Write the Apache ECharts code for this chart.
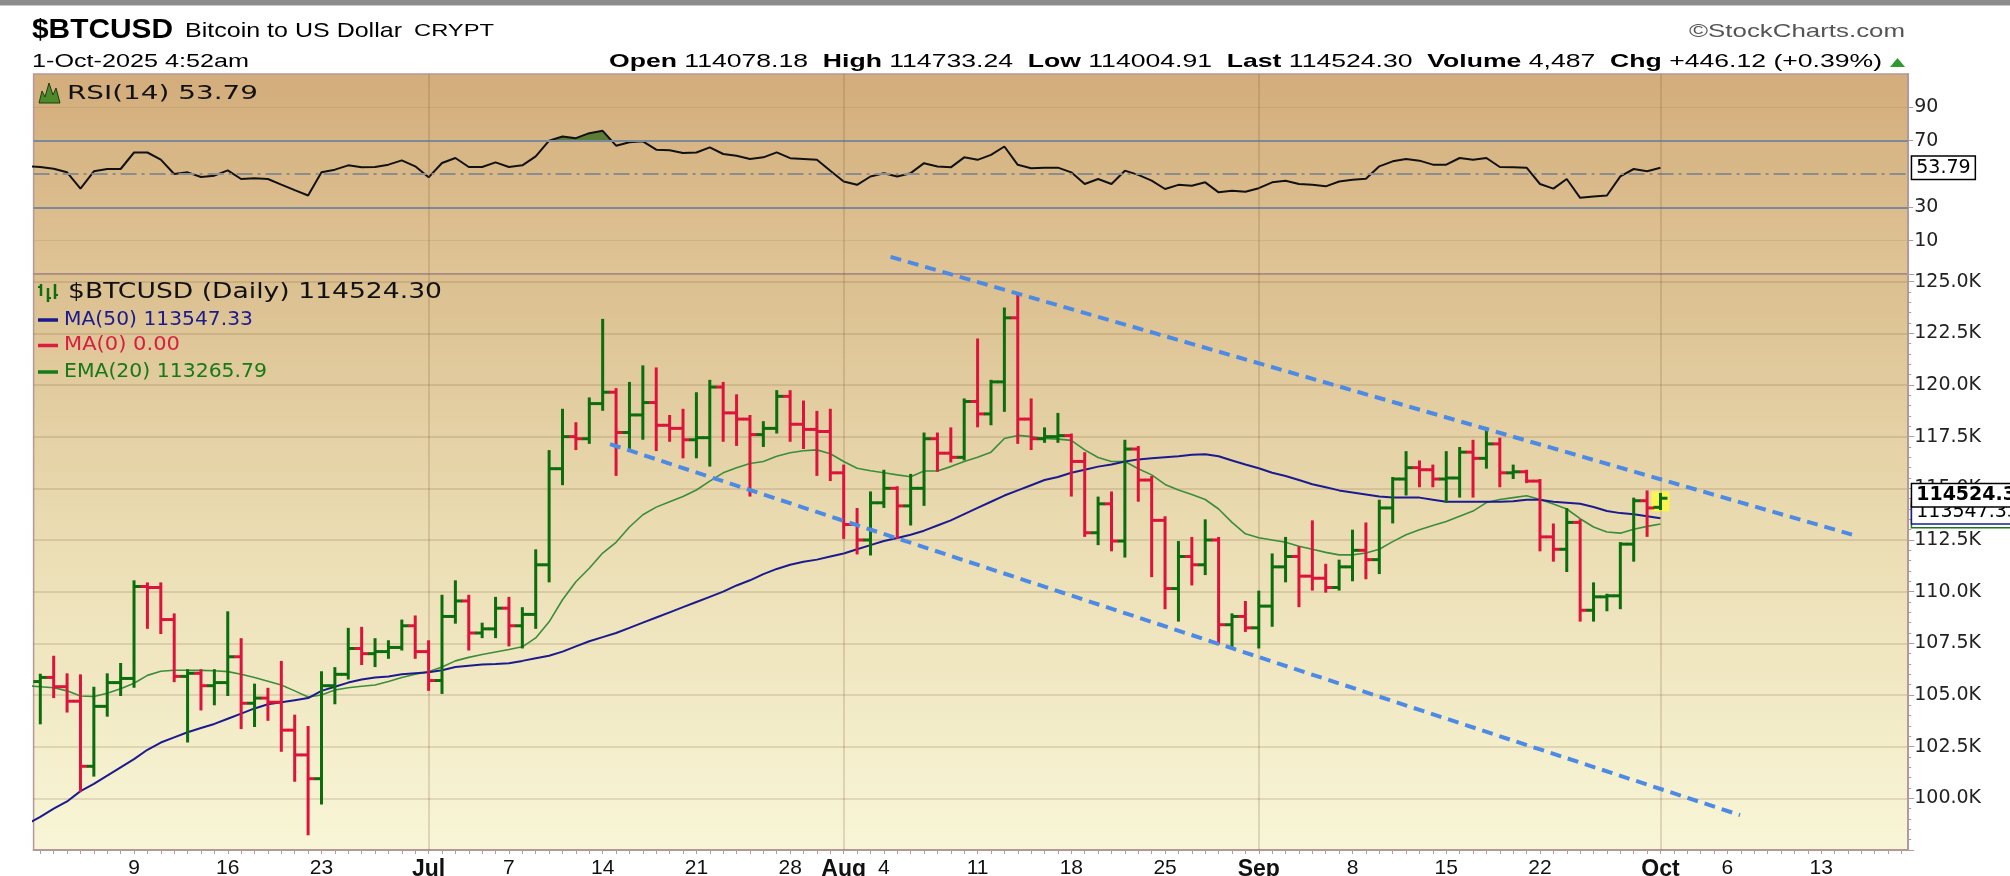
<!DOCTYPE html>
<html><head><meta charset="utf-8">
<script src="https://cdn.jsdelivr.net/npm/echarts@6/dist/echarts.min.js"></script>
<style>html,body{margin:0;padding:0;background:#fff;}#c{width:2010px;height:876px;}</style>
</head><body><div id="c"></div>
<script>
// ---------------- DATA ----------------
// day index: 0 = 1 Jun 2025
const startDay = 1;      // first bar: 2 Jun 2025
const lineStartDay = 0;  // indicator lines start 1 Jun 2025
const open = [105.65,105.85,105.4,104.7,101.55,104.45,105.6,105.8,110.25,110.2,
 108.65,105.9,106.05,105.45,105.6,106.85,104.6,104.85,104.65,103.3,
 102.1,100.95,105.45,106.0,107.25,107.0,107.1,107.3,108.35,107.1,
 105.7,108.8,109.55,108.0,108.2,109.2,108.35,108.9,111.3,115.95,
 117.5,117.4,119.1,119.65,117.7,118.55,119.15,118.05,117.9,117.35,
 117.45,119.9,118.65,118.35,117.6,117.9,119.45,118.1,117.85,117.75,
 115.75,113.25,112.5,114.3,115.0,114.15,115.0,117.4,116.7,116.5,
 119.2,118.6,120.15,123.25,118.35,117.4,117.5,117.55,116.3,112.85,
 114.25,112.45,116.9,115.4,113.45,110.15,111.7,111.3,112.5,108.4,
 108.8,108.25,109.3,111.2,111.7,110.75,110.65,110.2,111.2,112.0,
 111.55,114.05,115.45,116.0,115.9,115.45,115.5,116.75,116.45,117.15,
 115.75,115.8,115.35,112.65,112.05,113.35,109.1,109.75,109.8,112.3,
 114.4,114.08];
const high = [105.98,106.85,106.0,105.95,105.35,106.0,106.5,110.5,110.4,110.4,
 108.9,106.2,106.2,106.2,109.0,107.7,105.5,105.3,106.6,104.0,
 103.45,106.1,106.3,108.2,108.25,107.7,107.6,108.6,108.8,107.6,
 109.8,110.5,109.8,108.45,109.7,109.7,109.2,112.0,116.8,118.8,
 118.15,119.35,123.15,119.8,120.1,120.9,120.8,118.5,118.8,119.6,
 120.2,120.1,119.5,118.5,118.2,119.7,119.7,119.2,118.7,118.8,
 116.1,114.0,114.8,115.85,115.05,115.65,117.65,117.65,117.9,119.3,
 122.2,120.2,123.7,124.45,119.3,117.9,118.6,117.6,116.7,114.55,
 114.8,117.3,117.0,115.55,113.6,112.4,112.6,113.45,112.6,108.9,
 109.5,110.0,111.8,112.6,112.15,113.4,111.3,111.5,112.95,113.3,
 114.4,115.5,116.75,116.3,116.1,116.75,116.95,117.3,117.9,117.4,
 116.1,115.85,115.4,113.25,114.0,113.45,110.4,109.85,112.35,114.5,
 114.85,114.73];
const low = [103.63,104.9,104.2,100.35,101.1,104.0,105.0,105.4,108.25,108.0,
 105.67,102.75,104.3,104.55,105.0,103.4,103.5,103.8,102.3,100.85,
 98.26,99.75,104.6,105.8,106.5,106.4,106.8,107.2,106.8,105.25,
 105.1,108.5,107.2,107.8,107.8,107.4,107.3,108.25,110.5,115.2,
 116.9,117.2,118.8,115.65,116.95,117.4,116.85,117.3,116.5,116.5,
 116.1,117.3,117.1,114.65,117.05,117.7,117.3,116.95,115.65,115.4,
 112.6,111.85,111.8,114.1,112.6,113.25,114.2,115.85,116.3,116.4,
 118.0,118.1,118.75,117.2,116.9,117.25,117.25,114.65,112.7,112.3,
 112.0,111.7,114.4,110.75,109.2,108.6,110.35,110.85,107.5,107.3,
 108.1,107.3,108.35,110.5,109.3,110.1,110.0,110.1,110.55,110.65,
 110.9,113.35,114.7,115.1,115.1,114.35,114.6,114.6,116.0,115.1,
 115.5,115.3,112.0,111.5,111.0,108.6,108.6,109.1,109.2,111.5,
 112.7,114.0];
const close = [105.85,105.4,104.7,101.55,104.45,105.6,105.8,110.25,110.2,108.65,
 105.9,106.05,105.45,105.6,106.85,104.6,104.85,104.65,103.3,102.1,
 100.95,105.45,106.0,107.25,107.0,107.1,107.3,108.35,107.1,105.7,
 108.8,109.55,108.0,108.2,109.2,108.35,108.9,111.3,115.95,117.5,
 117.4,119.1,119.65,117.7,118.55,119.15,118.05,117.9,117.35,117.45,
 119.9,118.65,118.35,117.6,117.9,119.45,118.1,117.85,117.75,115.75,
 113.25,112.5,114.3,115.0,114.15,115.0,117.4,116.7,116.5,119.2,
 118.6,120.15,123.25,118.35,117.4,117.5,117.55,116.3,112.85,114.25,
 112.45,116.9,115.4,113.45,110.15,111.7,111.3,112.5,108.4,108.8,
 108.25,109.3,111.2,111.7,110.75,110.65,110.2,111.2,112.0,111.55,
 114.05,115.45,116.0,115.9,115.45,115.5,116.75,116.45,117.15,115.75,
 115.8,115.35,112.65,112.05,113.35,109.1,109.75,109.8,112.3,114.4,
 114.05,114.52];
const ma50 = [98.75,
 99.1,99.5,99.85,100.35,100.7,101.1,101.5,101.9,102.35,102.7,
 102.95,103.2,103.4,103.6,103.85,104.1,104.35,104.55,104.65,104.75,
 104.85,105.2,105.4,105.6,105.75,105.85,105.9,106.0,106.05,106.1,
 106.2,106.35,106.42,106.48,106.5,106.54,106.65,106.78,106.9,107.1,
 107.35,107.6,107.8,108.0,108.25,108.5,108.75,109.0,109.25,109.5,
 109.75,110.0,110.3,110.55,110.85,111.1,111.3,111.45,111.55,111.7,
 111.85,112.05,112.25,112.45,112.6,112.75,112.95,113.2,113.45,113.75,
 114.05,114.35,114.65,114.9,115.15,115.4,115.55,115.75,115.9,116.05,
 116.15,116.3,116.4,116.45,116.5,116.55,116.62,116.65,116.55,116.35,
 116.15,115.97,115.75,115.6,115.4,115.2,115.05,114.9,114.8,114.7,
 114.6,114.55,114.55,114.55,114.45,114.35,114.35,114.35,114.35,114.35,
 114.38,114.45,114.45,114.35,114.3,114.25,114.1,113.9,113.8,113.75,
 113.65,113.55];
const ema20 = [105.45,
 105.4,105.35,105.2,104.95,104.93,105.08,105.3,105.57,105.95,106.15,
 106.2,106.2,106.19,106.17,106.13,106.0,105.85,105.67,105.48,105.2,
 104.9,105.0,105.24,105.35,105.42,105.48,105.65,105.85,106.0,106.13,
 106.35,106.65,106.82,106.96,107.08,107.2,107.33,107.76,108.54,109.61,
 110.48,111.13,111.87,112.39,113.13,113.72,114.09,114.35,114.6,114.92,
 115.35,115.75,116.0,116.2,116.3,116.55,116.72,116.82,116.86,116.67,
 116.3,115.97,115.85,115.75,115.65,115.56,115.84,115.84,116.05,116.3,
 116.5,116.75,117.41,117.56,117.5,117.41,117.38,117.32,116.86,116.49,
 116.3,116.3,115.95,115.65,115.19,114.92,114.7,114.46,114.0,113.35,
 112.8,112.61,112.5,112.39,112.2,112.05,111.9,111.78,111.78,111.87,
 112.05,112.42,112.75,113.0,113.2,113.39,113.65,113.9,114.31,114.46,
 114.55,114.64,114.46,114.24,114.0,113.53,113.13,112.89,112.83,113.02,
 113.16,113.27];
const rsi14 = [54.8,
 54.2,53.2,51.0,41.2,51.6,53.0,53.0,62.9,62.9,58.6,
 50.0,51.0,48.2,49.0,52.2,47.0,47.5,47.0,43.6,40.3,
 37.1,51.0,52.6,55.2,54.0,54.2,55.6,58.2,54.6,48.0,
 56.6,59.6,54.2,54.2,57.0,54.2,55.2,60.6,70.0,72.5,
 71.5,74.5,75.9,67.0,69.0,69.6,64.6,64.2,62.6,62.9,
 66.0,62.0,61.0,59.0,60.0,63.0,59.5,59.0,58.5,52.0,
 45.5,43.5,48.5,50.5,48.5,50.5,56.5,54.5,54.0,60.0,
 58.5,61.5,66.5,55.5,53.5,53.8,53.8,51.0,44.0,47.0,
 44.0,52.0,49.5,46.0,41.0,43.5,43.0,45.0,39.0,40.0,
 39.3,41.5,45.0,46.0,44.0,43.5,42.6,45.5,46.6,47.2,
 54.6,57.6,59.0,58.0,55.6,55.6,59.6,58.6,59.6,54.2,
 54.0,53.8,44.0,41.2,47.0,35.7,36.5,37.1,48.6,53.0,
 51.6,53.79];
const xTickDays   = [8,15,22,30,36,43,50,57,61,64,71,78,85,92,99,106,113,122,127,134];
const xTickLabels = ['9','16','23','Jul','7','14','21','28','Aug','4','11','18','25','Sep','8','15','22','Oct','6','13'];
const monthStartDays = [30,61,92,122];
const rsiTickLabels = [10,30,70,90];
const rsiLevels = [70,30];
const rsiMid = 50;
const upperTrend = [[64.5,126.2],[136.3,112.76]];
const lowerTrend = [[43.55,117.14],[127.94,99.19]];
const quote = {Open:'114078.18', High:'114733.24', Low:'114004.91', Last:'114524.30', Volume:'4,487', Chg:'+446.12 (+0.39%)'};
const lastText = {close:'114524.30', ma50:'113547.33', ma0:'0.00', ema20:'113265.79', rsi:'53.79'};

// ---------------- LAYOUT / STYLE ----------------
const PL = 33.6, PR = 1908.2, PW = PR - PL;
const RSI_TOP = 74, RSI_H = 200, MAIN_TOP = 274, MAIN_H = 576;
const GREEN = '#0b6d0b', RED = '#dc143c', NAVY = '#1b1b8f', EMAC = '#3b8d3b';
const BORDER = '#b59898';
const GRIDC = 'rgba(120,85,50,0.22)';
const SANS = 'Liberation Sans', DV = 'DejaVu Sans';

const n = close.length;
const bars = close.map((c, i) => [startDay + i, open[i], high[i], low[i], c]);
const lineData = arr => arr.map((v, i) => [lineStartDay + i, v]);
const lastBar = bars[n - 1];

function renderBar(params, api) {
  const d = api.value(0), o = api.value(1), h = api.value(2), l = api.value(3), c = api.value(4);
  const pH = api.coord([d, h]), pL = api.coord([d, l]), pO = api.coord([d, o]), pC = api.coord([d, c]);
  const col = c >= o ? GREEN : RED;
  const lw = 3, t = 5.5;
  const st = {stroke: col, lineWidth: lw};
  return {type: 'group', children: [
    {type: 'line', shape: {x1: pH[0], y1: pH[1] - 1, x2: pL[0], y2: pL[1] + 1}, style: st},
    {type: 'line', shape: {x1: pO[0] - lw / 2 - t, y1: pO[1], x2: pO[0], y2: pO[1]}, style: st},
    {type: 'line', shape: {x1: pC[0], y1: pC[1], x2: pC[0] + lw / 2 + t, y2: pC[1]}, style: st}
  ]};
}

// overbought fill: polygons of the RSI line above the 70 level
function renderRsiFill(params, api) {
  const lvl = rsiLevels[0];
  const pts = lineData(rsi14);
  const polys = [];
  let cur = null;
  for (let i = 0; i < pts.length; i++) {
    const x = pts[i][0], v = pts[i][1];
    if (i > 0) {
      const px = pts[i - 1][0], pv = pts[i - 1][1];
      if ((pv > lvl) !== (v > lvl)) {
        const cx = px + (lvl - pv) / (v - pv) * (x - px);
        if (cur) { cur.push([cx, lvl]); polys.push(cur); cur = null; }
        else cur = [[cx, lvl]];
      }
    }
    if (v > lvl) { if (!cur) cur = [[x, lvl]]; cur.push([x, v]); }
  }
  if (cur) { cur.push([pts[pts.length - 1][0], lvl]); polys.push(cur); }
  return {type: 'group', children: polys.map(p => ({type: 'polygon',
    shape: {points: p.map(q => api.coord(q))}, style: {fill: '#5b7d34'}}))};
}

// text fitting helpers
const mctx = document.createElement('canvas').getContext('2d');
function tw(text, size, family, weight) { mctx.font = (weight || 'normal') + ' ' + size + 'px ' + family; return mctx.measureText(text).width; }
function fitText(text, x1, x2, cy, size, family, weight, color) {
  const w = tw(text, size, family, weight);
  return {type: 'text', x: x1, y: cy, scaleX: (x2 - x1) / w, z: 100, silent: true,
    style: {text: text, fontSize: size, fontFamily: family, fontWeight: weight || 'normal', fill: color, align: 'left', verticalAlign: 'middle'}};
}

// header stats rich row
const statSize = 19;
let statText = '', statW = 0;
const qk = Object.keys(quote);
qk.forEach((k, i) => {
  const val = ' ' + quote[k] + (i < qk.length - 1 ? '  ' : '');
  statText += '{b|' + k + '}{r|' + val + '}';
  statW += tw(k, statSize, SANS, 'bold') + tw(val, statSize, SANS, 'normal');
});
const statX1 = 609, statX2 = 1882;

const G = (o) => Object.assign({z: 100, silent: true}, o);
const graphics = [
  G({type: 'rect', shape: {x: 0, y: 0, width: 2010, height: 5}, style: {fill: '#8d8d8d'}}),
  G({type: 'rect', shape: {x: 0, y: 5, width: 2010, height: 1}, style: {fill: '#c8c8c8'}}),
  fitText('$BTCUSD', 32, 173, 30.5, 28, SANS, 'bold', '#000'),
  fitText('Bitcoin to US Dollar', 185, 402, 31.5, 21, SANS, 'normal', '#000'),
  fitText('CRYPT', 414, 494, 32, 16, SANS, 'normal', '#000'),
  fitText('\u00A9StockCharts.com', 1689, 1905, 32, 19, SANS, 'normal', '#555'),
  fitText('1-Oct-2025 4:52am', 32, 249, 62, 19, SANS, 'normal', '#000'),
  G({type: 'text', x: statX1, y: 62, scaleX: (statX2 - statX1) / statW,
    style: {text: statText, align: 'left', verticalAlign: 'middle',
      rich: {b: {fontFamily: SANS, fontWeight: 'bold', fontSize: statSize, fill: '#000'},
             r: {fontFamily: SANS, fontWeight: 'normal', fontSize: statSize, fill: '#000'}}}}),
  G({type: 'polygon', shape: {points: [[1890, 67], [1897.5, 58], [1905, 67]]}, style: {fill: '#2e9a2e'}}),
  // RSI legend
  G({type: 'polygon', shape: {points: [[39, 103], [42, 91], [45, 97], [49, 83], [53, 95], [56, 88], [60, 103]]},
    style: {fill: '#4d8a2c', stroke: '#1d3d10', lineWidth: 1}}),
  fitText('RSI(14) ' + lastText.rsi, 67, 258, 93.5, 20, DV, 'normal', '#111'),
  // Price legend
  G({type: 'line', shape: {x1: 41, y1: 284, x2: 41, y2: 296}, style: {stroke: GREEN, lineWidth: 2.5}}),
  G({type: 'line', shape: {x1: 38, y1: 287, x2: 41, y2: 287}, style: {stroke: GREEN, lineWidth: 2}}),
  G({type: 'line', shape: {x1: 48, y1: 288, x2: 48, y2: 302}, style: {stroke: GREEN, lineWidth: 2.5}}),
  G({type: 'line', shape: {x1: 48, y1: 298, x2: 51, y2: 298}, style: {stroke: GREEN, lineWidth: 2}}),
  G({type: 'line', shape: {x1: 55, y1: 284, x2: 55, y2: 299}, style: {stroke: GREEN, lineWidth: 2.5}}),
  G({type: 'line', shape: {x1: 55, y1: 295, x2: 58, y2: 295}, style: {stroke: GREEN, lineWidth: 2}}),
  fitText('$BTCUSD (Daily) ' + lastText.close, 68, 442, 293, 21, DV, 'normal', '#111'),
  G({type: 'line', shape: {x1: 38, y1: 320, x2: 58, y2: 320}, style: {stroke: NAVY, lineWidth: 3.5}}),
  fitText('MA(50) ' + lastText.ma50, 64, 253, 320, 19, DV, 'normal', NAVY),
  G({type: 'line', shape: {x1: 38, y1: 345.5, x2: 58, y2: 345.5}, style: {stroke: '#d81f3f', lineWidth: 3.5}}),
  fitText('MA(0) ' + lastText.ma0, 64, 180, 345.5, 19, DV, 'normal', '#d81f3f'),
  G({type: 'line', shape: {x1: 38, y1: 372, x2: 58, y2: 372}, style: {stroke: '#167a16', lineWidth: 3.5}}),
  fitText('EMA(20) ' + lastText.ema20, 64, 267, 372, 19, DV, 'normal', '#167a16')
];

const tagLabel = (txt, border, bold, off) => ({
  show: true, position: 'end', distance: 4, formatter: txt, offset: [0, off],
  fontFamily: DV, fontWeight: bold ? 'bold' : 'normal', fontSize: 19, color: '#000', opacity: 1,
  backgroundColor: '#fff', borderColor: border, borderWidth: 1.5, padding: [2, 4, 1, 4]
});
const hidden = {width: 1, color: 'rgba(0,0,0,0)', type: 'solid'};
const monthLines = monthStartDays.map(d => ({xAxis: d, lineStyle: {color: 'rgba(120,85,50,0.25)', width: 1.5, type: 'solid'}}));

const option = {
  animation: false,
  backgroundColor: '#fff',
  graphic: graphics,
  grid: [
    {left: PL, top: RSI_TOP, width: PW, height: RSI_H, show: true, borderColor: BORDER, borderWidth: 1.5,
      containLabel: false, outerBoundsMode: 'none',
      backgroundColor: new echarts.graphic.LinearGradient(0, 0, 0, 1, [{offset: 0, color: '#d3ad7b'}, {offset: 1, color: '#dfc496'}])},
    {left: PL, top: MAIN_TOP, width: PW, height: MAIN_H, show: true, borderColor: BORDER, borderWidth: 1.5,
      containLabel: false, outerBoundsMode: 'none',
      backgroundColor: new echarts.graphic.LinearGradient(0, 0, 0, 1, [{offset: 0, color: '#dbbf8f'}, {offset: 0.5, color: '#ecdfb6'}, {offset: 1, color: '#f8f6d7'}])}
  ],
  xAxis: [
    {type: 'value', gridIndex: 0, min: 0.5, max: 140.5, axisLine: {show: false}, axisTick: {show: false}, axisLabel: {show: false}, splitLine: {show: false}},
    {type: 'value', gridIndex: 1, min: 0.5, max: 140.5,
      axisLine: {show: true, lineStyle: {color: BORDER, width: 2}},
      axisTick: {show: true, customValues: Array.from({length: 140}, (_, i) => i + 1), length: 4, lineStyle: {color: BORDER, width: 1}},
      axisLabel: {show: true, customValues: xTickDays, margin: 8, hideOverlap: false,
        formatter: v => { const i = xTickDays.indexOf(Math.round(v)); if (i < 0) return ''; const s = xTickLabels[i]; return /^[A-Z]/.test(s) ? '{m|' + s + '}' : '{d|' + s + '}'; },
        rich: {m: {fontFamily: SANS, fontWeight: 'bold', fontSize: 23, color: '#111'},
               d: {fontFamily: SANS, fontSize: 21, color: '#111'}}},
      splitLine: {show: false}}
  ],
  yAxis: [
    {type: 'value', gridIndex: 0, position: 'right', min: -10, max: 110, interval: 5,
      axisLine: {show: true, lineStyle: {color: BORDER, width: 2}},
      axisTick: {show: true, customValues: rsiTickLabels, length: 5, lineStyle: {color: BORDER}},
      axisLabel: {show: true, customValues: rsiTickLabels, margin: 6, fontFamily: DV, fontSize: 19, color: '#222',
        formatter: v => rsiTickLabels.indexOf(v) >= 0 ? String(v) : ''},
      splitLine: {show: true, lineStyle: {color: 'rgba(120,85,50,0.13)', width: 1}}},
    {type: 'value', gridIndex: 1, position: 'right', min: 97.5, max: 125.37, interval: 2.5,
      axisLine: {show: true, lineStyle: {color: BORDER, width: 2}},
      axisTick: {show: true, length: 6, lineStyle: {color: BORDER}},
      minorTick: {show: true, splitNumber: 5, length: 3, lineStyle: {color: BORDER}},
      axisLabel: {show: true, margin: 6, fontFamily: DV, fontSize: 19, color: '#222',
        formatter: v => (v > 99.9 && v < 125.1) ? v.toFixed(1) + 'K' : ''},
      splitLine: {show: true, lineStyle: {color: GRIDC, width: 1.5}}}
  ],
  series: [
    {type: 'custom', name: 'rsiFill', xAxisIndex: 0, yAxisIndex: 0, data: [[startDay, rsiLevels[0]]],
      renderItem: renderRsiFill, z: 2, silent: true},
    {type: 'line', name: 'RSI', xAxisIndex: 0, yAxisIndex: 0, data: lineData(rsi14), symbol: 'none',
      lineStyle: {color: '#111', width: 2}, z: 4, silent: true,
      markLine: {silent: true, symbol: ['none', 'none'], label: {show: false},
        data: [
          {yAxis: rsiLevels[0], lineStyle: {color: '#7b8a9a', width: 2, type: 'solid'}},
          {yAxis: rsiLevels[1], lineStyle: {color: '#7b8a9a', width: 2, type: 'solid'}},
          {yAxis: rsiMid, lineStyle: {color: '#8c8c8c', width: 2, type: [16, 5, 3, 5]}},
          ...monthLines
        ]}},
    {type: 'line', name: 'rsiTag', xAxisIndex: 0, yAxisIndex: 0, data: [], symbol: 'none', z: 6, silent: true,
      markLine: {silent: true, symbol: ['none', 'none'],
        data: [{yAxis: rsi14[rsi14.length - 1], lineStyle: hidden, label: tagLabel(lastText.rsi, '#000', false, 0)}]}},
    {type: 'line', name: 'MA50', xAxisIndex: 1, yAxisIndex: 1, data: lineData(ma50), symbol: 'none',
      lineStyle: {color: NAVY, width: 2}, z: 3, silent: true,
      markLine: {silent: true, symbol: ['none', 'none'], label: {show: false}, data: monthLines}},
    {type: 'line', name: 'EMA20', xAxisIndex: 1, yAxisIndex: 1, data: lineData(ema20), symbol: 'none',
      lineStyle: {color: EMAC, width: 1.6}, z: 2, silent: true},
    {type: 'line', name: 'emaTag', xAxisIndex: 1, yAxisIndex: 1, data: [], symbol: 'none', z: 6, silent: true,
      markLine: {silent: true, symbol: ['none', 'none'],
        data: [{yAxis: ema20[ema20.length - 1], lineStyle: hidden, label: tagLabel(lastText.ema20, '#167a16', false, -8)}]}},
    {type: 'line', name: 'maTag', xAxisIndex: 1, yAxisIndex: 1, data: [], symbol: 'none', z: 7, silent: true,
      markLine: {silent: true, symbol: ['none', 'none'],
        data: [{yAxis: ma50[ma50.length - 1], lineStyle: hidden, label: tagLabel(lastText.ma50, NAVY, false, -6)}]}},
    {type: 'line', name: 'closeTag', xAxisIndex: 1, yAxisIndex: 1, data: [], symbol: 'none', z: 8, silent: true,
      markLine: {silent: true, symbol: ['none', 'none'],
        data: [{yAxis: close[n - 1], lineStyle: hidden, label: tagLabel(lastText.close, '#000', true, -3)}]}},
    {type: 'scatter', name: 'lastHL', xAxisIndex: 1, yAxisIndex: 1, data: [[lastBar[0], (lastBar[2] + lastBar[3]) / 2]],
      symbol: 'rect', symbolSize: [18, 20], itemStyle: {color: '#fcfc3a'}, z: 4, silent: true},
    {type: 'custom', name: 'OHLC', xAxisIndex: 1, yAxisIndex: 1, data: bars, renderItem: renderBar,
      encode: {x: 0, y: [1, 2, 3, 4]}, z: 5, silent: true},
    {type: 'line', name: 'upperTrend', xAxisIndex: 1, yAxisIndex: 1, data: upperTrend, symbol: 'none', clip: false,
      lineStyle: {color: '#4d8ae6', width: 4, type: [11, 7]}, z: 10, silent: true},
    {type: 'line', name: 'lowerTrend', xAxisIndex: 1, yAxisIndex: 1, data: lowerTrend, symbol: 'none', clip: false,
      lineStyle: {color: '#4d8ae6', width: 4, type: [11, 7]}, z: 10, silent: true}
  ]
};
const chart = echarts.init(document.getElementById('c'), null, {renderer: 'canvas', width: 2010, height: 876});
chart.setOption(option);
</script></body></html>
